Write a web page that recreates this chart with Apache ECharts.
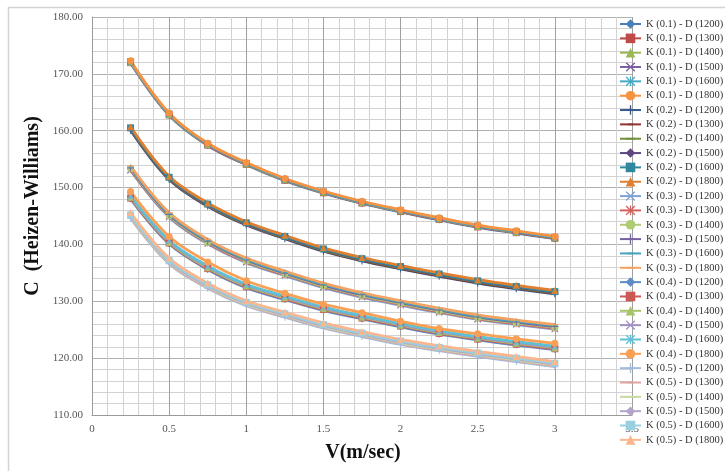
<!DOCTYPE html>
<html>
<head>
<meta charset="utf-8">
<script src="https://cdn.jsdelivr.net/npm/echarts@6/dist/echarts.min.js"></script>
<style>
html,body{margin:0;padding:0;background:#fff;}
#chart{width:725px;height:471px;}
</style>
</head>
<body>
<div id="chart"></div>
<script>
// ---- data ----
var velocities = [0.25, 0.5, 0.75, 1, 1.25, 1.5, 1.75, 2, 2.25, 2.5, 2.75, 3];
var seriesNames = [
  "K (0.1) - D (1200)", "K (0.1) - D (1300)", "K (0.1) - D (1400)", "K (0.1) - D (1500)", "K (0.1) - D (1600)", "K (0.1) - D (1800)",
  "K (0.2) - D (1200)", "K (0.2) - D (1300)", "K (0.2) - D (1400)", "K (0.2) - D (1500)", "K (0.2) - D (1600)", "K (0.2) - D (1800)",
  "K (0.3) - D (1200)", "K (0.3) - D (1300)", "K (0.3) - D (1400)", "K (0.3) - D (1500)", "K (0.3) - D (1600)", "K (0.3) - D (1800)",
  "K (0.4) - D (1200)", "K (0.4) - D (1300)", "K (0.4) - D (1400)", "K (0.4) - D (1500)", "K (0.4) - D (1600)", "K (0.4) - D (1800)",
  "K (0.5) - D (1200)", "K (0.5) - D (1300)", "K (0.5) - D (1400)", "K (0.5) - D (1500)", "K (0.5) - D (1600)", "K (0.5) - D (1800)"
];
var yTicks = [110, 120, 130, 140, 150, 160, 170, 180];
var xTicks = [0, 0.5, 1, 1.5, 2, 2.5, 3, 3.5];

var k01_d1200 = [171.90,162.70,157.40,154.00,151.20,149.00,147.20,145.70,144.30,143.00,142.00,141.00];
var k01_d1300 = [171.98,162.78,157.48,154.08,151.28,149.08,147.28,145.78,144.38,143.08,142.08,141.08];
var k01_d1400 = [172.06,162.86,157.56,154.16,151.36,149.16,147.36,145.86,144.46,143.16,142.16,141.16];
var k01_d1500 = [172.12,162.92,157.62,154.22,151.42,149.22,147.42,145.92,144.52,143.22,142.22,141.22];
var k01_d1600 = [172.18,162.98,157.68,154.28,151.48,149.28,147.48,145.98,144.58,143.28,142.28,141.28];
var k01_d1800 = [172.30,163.10,157.80,154.40,151.60,149.40,147.60,146.10,144.70,143.40,142.40,141.40];

var k02_d1200 = [160.10,151.40,146.70,143.40,141.00,138.80,137.10,135.70,134.40,133.20,132.20,131.30];
var k02_d1300 = [160.20,151.50,146.80,143.50,141.10,138.90,137.20,135.80,134.50,133.30,132.30,131.40];
var k02_d1400 = [160.30,151.60,146.90,143.60,141.20,139.00,137.30,135.90,134.60,133.40,132.40,131.50];
var k02_d1500 = [160.40,151.70,147.00,143.70,141.30,139.10,137.40,136.00,134.70,133.50,132.50,131.60];
var k02_d1600 = [160.50,151.80,147.10,143.80,141.40,139.20,137.50,136.10,134.80,133.60,132.60,131.70];
var k02_d1800 = [160.70,152.00,147.30,144.00,141.60,139.40,137.70,136.30,135.00,133.80,132.80,131.90];

var k03_d1200 = [153.00,144.80,140.10,136.80,134.50,132.40,130.70,129.30,128.00,126.80,125.90,125.10];
var k03_d1300 = [153.15,144.95,140.25,136.95,134.65,132.55,130.85,129.45,128.15,126.95,126.05,125.25];
var k03_d1400 = [153.30,145.10,140.40,137.10,134.80,132.70,131.00,129.60,128.30,127.10,126.20,125.40];
var k03_d1500 = [153.45,145.25,140.55,137.25,134.95,132.85,131.15,129.75,128.45,127.25,126.35,125.55];
var k03_d1600 = [153.60,145.40,140.70,137.40,135.10,133.00,131.30,129.90,128.60,127.40,126.50,125.70];
var k03_d1800 = [153.80,145.60,140.90,137.60,135.30,133.20,131.50,130.10,128.80,127.60,126.70,125.90];

var k04_d1200 = [148.00,140.10,135.60,132.40,130.30,128.40,126.90,125.50,124.20,123.20,122.30,121.50];
var k04_d1300 = [148.15,140.25,135.75,132.55,130.45,128.55,127.05,125.65,124.35,123.35,122.45,121.65];
var k04_d1400 = [148.30,140.40,135.90,132.70,130.60,128.70,127.20,125.80,124.50,123.50,122.60,121.80];
var k04_d1500 = [148.45,140.55,136.05,132.85,130.75,128.85,127.35,125.95,124.65,123.65,122.75,121.95];
var k04_d1600 = [148.60,140.70,136.20,133.00,130.90,129.00,127.50,126.10,124.80,123.80,122.90,122.10];
var k04_d1800 = [149.30,141.40,136.90,133.60,131.40,129.50,128.00,126.50,125.20,124.30,123.40,122.60];

var k05_d1200 = [144.60,136.60,132.30,129.20,127.20,125.30,123.80,122.40,121.30,120.30,119.40,118.50];
var k05_d1300 = [144.75,136.75,132.45,129.35,127.35,125.45,123.95,122.55,121.45,120.45,119.55,118.65];
var k05_d1400 = [144.90,136.90,132.60,129.50,127.50,125.60,124.10,122.70,121.60,120.60,119.70,118.80];
var k05_d1500 = [145.05,137.05,132.75,129.65,127.65,125.75,124.25,122.85,121.75,120.75,119.85,118.95];
var k05_d1600 = [145.20,137.20,132.90,129.80,127.80,125.90,124.40,123.00,121.90,120.90,120.00,119.10];
var k05_d1800 = [145.60,137.60,133.20,130.10,128.10,126.20,124.70,123.30,122.20,121.20,120.30,119.40];

var allValues = [
  k01_d1200,k01_d1300,k01_d1400,k01_d1500,k01_d1600,k01_d1800,
  k02_d1200,k02_d1300,k02_d1400,k02_d1500,k02_d1600,k02_d1800,
  k03_d1200,k03_d1300,k03_d1400,k03_d1500,k03_d1600,k03_d1800,
  k04_d1200,k04_d1300,k04_d1400,k04_d1500,k04_d1600,k04_d1800,
  k05_d1200,k05_d1300,k05_d1400,k05_d1500,k05_d1600,k05_d1800
];

// ---- styles ----
var SYM_X = 'path://M1,0L5,4L9,0L10,1L6,5L10,9L9,10L5,6L1,10L0,9L4,5L0,1Z';
var SYM_PLUS = 'path://M4.3,0h1.4v4.3h4.3v1.4h-4.3v4.3h-1.4v-4.3h-4.3v-1.4h4.3z';
var SYM_STAR = 'path://M1,0L5,4L9,0L10,1L6,5L10,9L9,10L5,6L1,10L0,9L4,5L0,1Z M4.4,0h1.2v10h-1.2z';
var SYM_DASH = 'path://M0,0M10,10M2,4.1h6v1.8h-6z';
var SYM_LDASH = 'path://M0,0M10,10M0,4.1h10v1.8h-10z';
var markers = ['diamond','rect','triangle',SYM_X,SYM_STAR,'circle',SYM_PLUS,SYM_DASH,SYM_LDASH];
var colors = [
  '#4A7EBB','#BE4B48','#98B954','#7D60A0','#46AAC5','#F69240',
  '#34598A','#8E3432','#738E3C','#5C4780','#2F88A0','#E07F30',
  '#7FA3D3','#D3625F','#AECB73','#7761A3','#45A3BC','#F4A262',
  '#5D8CC8','#CC5856','#A6C56A','#A290C2','#5EC1D5','#F9A055',
  '#A3BCDD','#DFA3A1','#C6DBA2','#B3A4CC','#9ACFE0','#FBB68E'
];

var series = allValues.map(function (vals, i) {
  var m = markers[i % 9];
  return {
    name: seriesNames[i],
    type: 'line',
    data: velocities.map(function (v, j) { return [v, vals[j]]; }),
    smooth: 0.35,
    symbol: m,
    symbolSize: 7,
    showAllSymbol: true,
    lineStyle: { width: 2.75, color: colors[i] },
    itemStyle: { color: colors[i] },
    emphasis: { disabled: true },
    z: 2
  };
});

var serif = 'Liberation Serif, Times New Roman, serif';
var chart = echarts.init(document.getElementById('chart'), null, { renderer: 'canvas' });
chart.setOption({
  animation: false,
  backgroundColor: '#fff',
  color: colors,
  grid: { left: 92, right: 93, top: 17, bottom: 56, containLabel: false },
  xAxis: {
    type: 'value', min: xTicks[0], max: xTicks[xTicks.length - 1], interval: 0.5,
    axisLine: { show: true, lineStyle: { color: '#9a9a9a', width: 1 } },
    axisTick: { show: false },
    axisLabel: { fontFamily: serif, fontSize: 11, color: '#555', margin: 9 },
    splitLine: { show: true, lineStyle: { color: '#a0a0a0', width: 1 } },
    minorTick: { show: false, splitNumber: 5 },
    minorSplitLine: { show: true, lineStyle: { color: '#d2d2d2', width: 1 } }
  },
  yAxis: {
    type: 'value', min: yTicks[0], max: yTicks[yTicks.length - 1], interval: 10,
    axisLine: { show: true, lineStyle: { color: '#9a9a9a', width: 1 } },
    axisTick: { show: false },
    axisLabel: { fontFamily: serif, fontSize: 11, color: '#555', margin: 9,
      formatter: function (v) { return v.toFixed(2); } },
    splitLine: { show: true, lineStyle: { color: '#b0b0b0', width: 1 } },
    minorTick: { show: false, splitNumber: 5 },
    minorSplitLine: { show: true, lineStyle: { color: '#d2d2d2', width: 1 } }
  },
  legend: {
    orient: 'vertical',
    left: 619, top: 18,
    padding: 0,
    itemWidth: 21, itemHeight: 12, itemGap: 2.34,
    textStyle: { fontFamily: serif, fontSize: 10.5, color: '#333', lineHeight: 12 },
    data: seriesNames,
    selectedMode: false
  },
  graphic: [
    { type: 'rect', shape: { x: 8.5, y: 7.5, width: 760, height: 500 },
      style: { fill: 'none', stroke: '#d4d4d4', lineWidth: 1.5 }, z: -1, silent: true },
    { type: 'text', x: 33, y: 206, rotation: Math.PI / 2,
      style: { text: 'C  (Heizen-Williams)', font: 'bold 20px ' + serif, fill: '#111', align: 'center', verticalAlign: 'middle' } },
    { type: 'text', x: 363, y: 453,
      style: { text: 'V(m/sec)', font: 'bold 20px ' + serif, fill: '#111', align: 'center', verticalAlign: 'middle' } }
  ],
  series: series
});
</script>
</body>
</html>
